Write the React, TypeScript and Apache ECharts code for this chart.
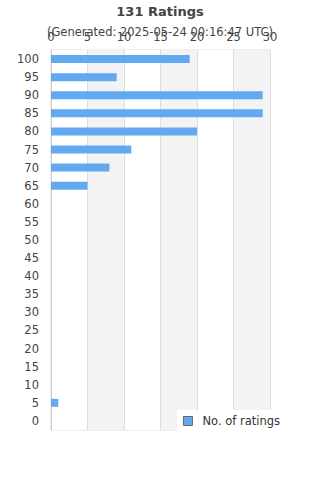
import React, { useEffect, useRef } from "react";
import * as echarts from "echarts";

const categories = ["0","5","10","15","20","25","30","35","40","45","50","55","60","65","70","75","80","85","90","95","100"];
const counts = [0,1,0,0,0,0,0,0,0,0,0,0,0,5,8,11,20,29,29,9,19];
const titleText = "131 Ratings";
const subText = "(Generated: 2025-05-24 00:16:47 UTC)";
const seriesName = "No. of ratings";

export default function App() {
  const ref = useRef<HTMLDivElement>(null);
  useEffect(() => {
    const chart = echarts.init(ref.current!, null, { renderer: "svg" });
    chart.setOption({
      animation: false,
      title: {
        text: titleText,
        subtext: subText,
        left: "center",
        top: 5,
        padding: 0,
        itemGap: 8,
        textStyle: { fontSize: 13, fontWeight: "bold", color: "#444", fontFamily: "DejaVu Sans" },
        subtextStyle: { fontSize: 11.5, color: "#444", fontFamily: "DejaVu Sans" },
      },
      legend: {
        data: [seriesName],
        right: 38,
        bottom: 48,
        backgroundColor: "#fff",
        padding: [5, 2, 5, 6],
        itemWidth: 9,
        itemHeight: 9,
        icon: "rect",
        itemStyle: { borderColor: "#666", borderWidth: 1 },
        textStyle: { fontSize: 11.5, color: "#333", fontFamily: "DejaVu Sans", padding: [0, 0, 0, 5] },
      },
      grid: {
        left: 51,
        right: 50,
        top: 50,
        bottom: 50,
        show: true,
        borderColor: "#ddd",
        borderWidth: 1,
      },
      xAxis: {
        type: "value",
        position: "top",
        min: 0,
        max: 30,
        interval: 5,
        axisLine: { show: false },
        axisTick: { show: false },
        axisLabel: { fontSize: 11.5, color: "#444", margin: 7, fontFamily: "DejaVu Sans" },
        splitLine: { show: true, lineStyle: { color: "#ddd" } },
        splitArea: { show: true, areaStyle: { color: ["#ffffff", "#f3f3f3"] } },
      },
      yAxis: {
        type: "category",
        data: categories,
        axisLine: { show: true, lineStyle: { color: "#ccc" } },
        axisTick: { show: false },
        axisLabel: { fontSize: 11.5, color: "#444", margin: 12, fontFamily: "DejaVu Sans" },
      },
      series: [
        {
          name: seriesName,
          type: "bar",
          data: counts,
          barWidth: 8,
          itemStyle: { color: "#62a9f2" },
        },
      ],
    });
    return () => chart.dispose();
  }, []);
  return <div ref={ref} style={{ position: "absolute", left: 0, top: 0, width: 320, height: 480 }} />;
}
